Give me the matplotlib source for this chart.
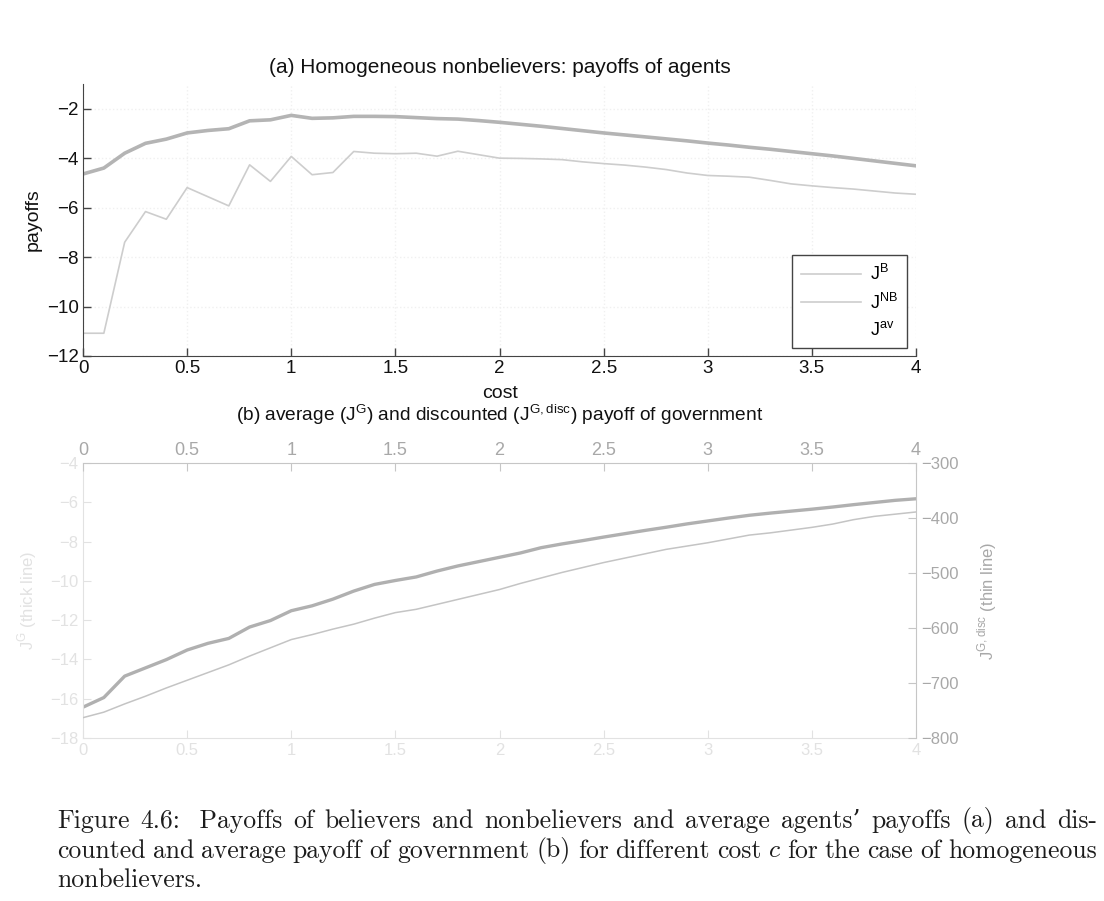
import matplotlib
matplotlib.use("Agg")
import matplotlib.pyplot as plt
from matplotlib.lines import Line2D

plt.rcParams['font.family'] = ['Liberation Sans', 'DejaVu Sans']
plt.rcParams['mathtext.fontset'] = 'custom'
plt.rcParams['mathtext.rm'] = 'Liberation Sans'

cost = [0.0, 0.1, 0.2, 0.3, 0.4, 0.5, 0.6, 0.7, 0.8, 0.9,
        1.0, 1.1, 1.2, 1.3, 1.4, 1.5, 1.6, 1.7, 1.8, 1.9,
        2.0, 2.1, 2.2, 2.3, 2.4, 2.5, 2.6, 2.7, 2.8, 2.9,
        3.0, 3.1, 3.2, 3.3, 3.4, 3.5, 3.6, 3.7, 3.8, 3.9, 4.0]

# payoffs of believers / nonbelievers
J_B = [-11.08, -11.08, -7.40, -6.16, -6.47, -5.19, -5.56, -5.93, -4.27, -4.94,
       -3.93, -4.67, -4.58, -3.73, -3.80, -3.82, -3.80, -3.92, -3.72, -3.86,
       -4.00, -4.01, -4.03, -4.06, -4.15, -4.22, -4.28, -4.36, -4.46, -4.60,
       -4.70, -4.73, -4.77, -4.90, -5.04, -5.12, -5.19, -5.25, -5.33, -5.41, -5.46]
J_NB = [-4.64, -4.40, -3.80, -3.40, -3.23, -2.98, -2.88, -2.81, -2.49, -2.45,
        -2.27, -2.39, -2.37, -2.31, -2.31, -2.32, -2.36, -2.40, -2.42, -2.48,
        -2.55, -2.63, -2.71, -2.80, -2.89, -2.98, -3.06, -3.14, -3.22, -3.30,
        -3.39, -3.47, -3.56, -3.64, -3.73, -3.82, -3.91, -4.01, -4.11, -4.21, -4.31]

# government: average (left axis) and discounted (right axis)
J_G = [-16.43, -15.94, -14.85, -14.43, -14.01, -13.52, -13.18, -12.93, -12.35, -12.02,
       -11.52, -11.27, -10.93, -10.52, -10.18, -9.98, -9.80, -9.50, -9.24, -9.02,
       -8.80, -8.58, -8.31, -8.12, -7.95, -7.77, -7.60, -7.43, -7.27, -7.10,
       -6.95, -6.80, -6.66, -6.55, -6.45, -6.35, -6.24, -6.12, -6.01, -5.90, -5.82]
J_Gdisc = [-763, -753, -738, -724, -709, -695, -681, -667, -651, -636,
           -621, -612, -602, -593, -582, -572, -566, -557, -548, -539,
           -530, -519, -509, -499, -490, -481, -473, -465, -457, -451,
           -445, -438, -431, -427, -422, -417, -411, -403, -397, -393, -389]

x_ticks = [0, 0.5, 1, 1.5, 2, 2.5, 3, 3.5, 4]
x_ticklabels = ['0', '0.5', '1', '1.5', '2', '2.5', '3', '3.5', '4']

W, H = 1104, 901
fig = plt.figure(figsize=(W / 100, H / 100), dpi=100)

# ---- (a) agents ----
ax = fig.add_axes([0.0752, 0.6049, 0.7545, 0.3019])
ax.plot(cost, J_B, color='#cdcdcd', lw=1.2)
ax.plot(cost, J_NB, color='#b4b4b4', lw=2.6)
ax.set_xlim(0, 4)
ax.set_ylim(-12, -1)
ax.set_yticks([-12, -10, -8, -6, -4, -2])
ax.set_yticklabels(['\u221212', '\u221210', '\u22128', '\u22126', '\u22124', '\u22122'])
ax.set_xticks(x_ticks)
ax.set_xticklabels(x_ticklabels)
for s in ['top', 'right']:
    ax.spines[s].set_visible(False)
for s in ['left', 'bottom']:
    ax.spines[s].set_color('#444444')
ax.tick_params(direction='in', length=6, width=1, colors='#444444',
               labelcolor='#111111', labelsize=13.5, pad=3)
ax.grid(True, color='#f0f0f0', ls=':', lw=1)
ax.set_ylabel('payoffs', fontsize=14, color='#111111', labelpad=4)

handles = [Line2D([], [], color='#cdcdcd', lw=1.2),
           Line2D([], [], color='#cdcdcd', lw=1.2),
           Line2D([], [], color='white', lw=1.2)]
leg = ax.legend(handles, ['J$^{\\rm B}$', 'J$^{\\rm NB}$', 'J$^{\\rm av}$'],
                loc='lower right', bbox_to_anchor=(0.989, 0.03), borderaxespad=0,
                fancybox=False, framealpha=1, edgecolor='#444444', fontsize=13,
                handlelength=3.3, handletextpad=0.5, labelspacing=0.45, borderpad=0.5)
leg.get_frame().set_linewidth(1)

fig.text(0.453, 0.925, '(a) Homogeneous nonbelievers: payoffs of agents',
         ha='center', va='center', fontsize=15, color='#111111')
fig.text(0.453, 0.563, 'cost', ha='center', va='center', fontsize=14, color='#111111')
fig.text(0.453, 0.540,
         '(b) average (J$^{\\rm G}$) and discounted (J$^{\\rm G,disc}$) payoff of government',
         ha='center', va='center', fontsize=13.8, color='#111111')

# ---- (b) government ----
faint = '#e2e2e2'
axg = fig.add_axes([0.0752, 0.1809, 0.7545, 0.3052])
axg.plot(cost, J_G, color='#b0b0b0', lw=2.4)
axg.set_xlim(0, 4)
axg.set_ylim(-18, -4)
axg.set_yticks([-18, -16, -14, -12, -10, -8, -6, -4])
axg.set_yticklabels(['\u221218', '\u221216', '\u221214', '\u221212', '\u221210',
                     '\u22128', '\u22126', '\u22124'])
axg.set_xticks(x_ticks)
axg.set_xticklabels(x_ticklabels)
for s in ['top', 'right']:
    axg.spines[s].set_visible(False)
for s in ['left', 'bottom']:
    axg.spines[s].set_color(faint)
axg.tick_params(direction='in', length=6, colors=faint, labelcolor=faint, labelsize=12)
axg.set_ylabel('J$^{\\rm G}$ (thick line)', color=faint, fontsize=12, labelpad=8)

axd = axg.twinx()
axd.plot(cost, J_Gdisc, color='#c4c4c4', lw=1.1)
axd.set_ylim(-800, -300)
axd.set_yticks([-800, -700, -600, -500, -400, -300])
axd.set_yticklabels(['\u2212800', '\u2212700', '\u2212600', '\u2212500', '\u2212400', '\u2212300'])
axd.xaxis.set_visible(True)
axd.xaxis.set_ticks_position('top')
axd.set_xlim(0, 4)
axd.set_xticks(x_ticks)
axd.set_xticklabels(x_ticklabels)
axd.tick_params(axis='x', top=True, labeltop=True, bottom=False, labelbottom=False)
for s in ['left', 'bottom']:
    axd.spines[s].set_visible(False)
for s in ['top', 'right']:
    axd.spines[s].set_visible(True)
    axd.spines[s].set_color('#c6c6c6')
axd.tick_params(axis='x', direction='in', length=6, colors='#c6c6c6',
                labelcolor='#a8a8a8', labelsize=13, pad=3)
axd.tick_params(axis='y', direction='in', length=6, colors='#c6c6c6',
                labelcolor='#a8a8a8', labelsize=12)
axd.set_ylabel('J$^{\\rm G,disc}$ (thin line)', color='#a8a8a8', fontsize=12,
               rotation=90, labelpad=12)

# ---- caption, justified between two margins ----
caption = [["Figure", "4.6:", " Payoffs", "of", "believers", "and", "nonbelievers", "and",
            "average", "agents\u2019", "payoffs", "(a)", "and", "dis-"],
           ["counted", "and", "average", "payoff", "of", "government", "(b)", "for",
            "different", "cost", "c", "for", "the", "case", "of", "homogeneous"],
           ["nonbelievers."]]
cap_y = [821, 851, 880]
justify = [True, True, False]
x_left, x_right = 57, 1097

renderer = fig.canvas.get_renderer()
for words, yy, just in zip(caption, cap_y, justify):
    texts = []
    for w in words:
        fam = ['cmmi10'] if w == 'c' else ['cmr10', 'DejaVu Serif']
        t = fig.text(0, 1 - yy / H, w, ha='left', va='center', fontsize=18.5,
                     family=fam, color='#1c1c1c')
        texts.append(t)
    widths = [t.get_window_extent(renderer).width for t in texts]
    if just and len(words) > 1:
        gap = (x_right - x_left - sum(widths)) / (len(words) - 1)
    else:
        gap = 7
    x = x_left
    for t, w in zip(texts, widths):
        t.set_x(x / W)
        x += w + gap

fig.savefig('out.png', dpi=100)
